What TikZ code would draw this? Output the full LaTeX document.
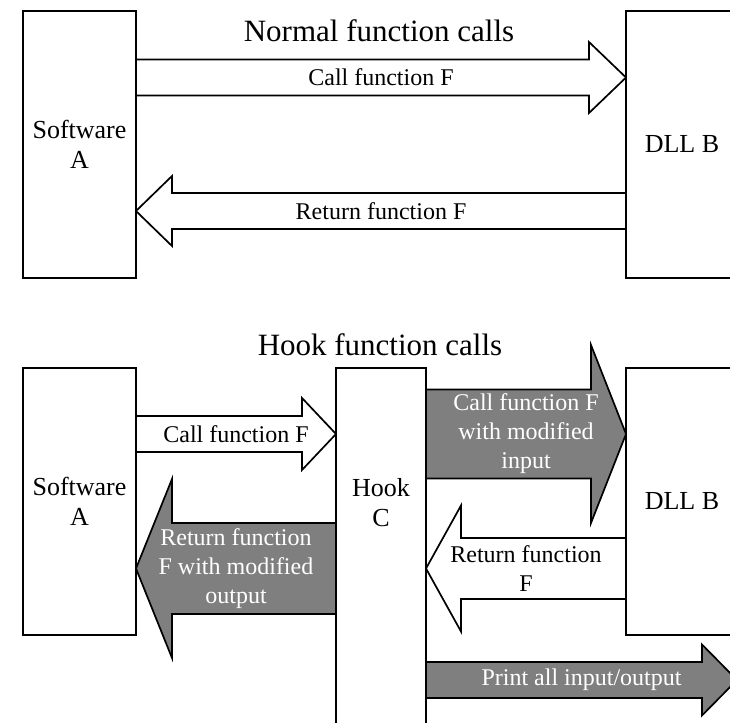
\documentclass[tikz,border=0pt]{standalone}
\usepackage{fontspec}
\setmainfont{Liberation Serif}
\usetikzlibrary{calc}

% Block arrow: #1 tail point, #2 tip point, #3 half body height,
% #4 half head height, #5 signed head length (+ right, - left),
% #6 path style, #7 label style, #8 label text
\newcommand{\blockarrow}[8]{%
  \draw[#6] let \p1=#1, \p2=#2 in
    (\x1,\y2+#3pt) -- (\x2-#5pt,\y2+#3pt) -- (\x2-#5pt,\y2+#4pt) -- (\x2,\y2)
    -- (\x2-#5pt,\y2-#4pt) -- (\x2-#5pt,\y2-#3pt) -- (\x1,\y2-#3pt) -- cycle;
  \node[#7] at ($#1!0.5!#2$) {#8};%
}

\definecolor{gray50}{HTML}{7F7F7F}
\tikzset{
  box/.style={draw, line width=1.7pt, rectangle, anchor=north west, outer sep=0pt,
              inner sep=0pt, align=center, font=\fontsize{26}{30}\selectfont},
  boxtext/.style={align=center, font=\fontsize{26}{30}\selectfont},
  whitearrow/.style={draw, fill=white, line width=1.7pt, line join=miter},
  grayarrow/.style={draw, fill=gray50, line width=1.7pt, line join=miter},
  darklabel/.style={align=center, text=black, font=\fontsize{24}{29}\selectfont},
  lightlabel/.style={align=center, text=white, font=\fontsize{24}{29}\selectfont},
  title/.style={anchor=base, font=\fontsize{31}{35}\selectfont}
}

\begin{document}
\begin{tikzpicture}[x=1pt, y=-1pt]
  \useasboundingbox (0,0) rectangle (730,722);
  \clip (0,0) rectangle (730,722);

  % ---- normal function calls ----
  \node[title] (t1) at (379,42) {Normal function calls};
  \node[box, minimum width=113pt, minimum height=267pt] (A1) at (23,11) {Software\\A};
  \node[box, minimum width=112pt, minimum height=267pt] (B1) at (626,11) {DLL B};

  \blockarrow{(A1.east |- 0,77.5)}{(B1.west |- 0,77.5)}{18}{35.5}{37}
    {whitearrow}{darklabel}{Call function F}
  \blockarrow{(B1.west |- 0,211)}{(A1.east |- 0,211)}{18}{35}{-36}
    {whitearrow}{darklabel}{Return function F}

  % ---- hooked function calls ----
  \node[title] (t2) at (380,355) {Hook function calls};
  \node[box, minimum width=113pt, minimum height=267pt] (A2) at (23,368) {Software\\A};
  \node[box, minimum width=90pt, minimum height=372pt] (C) at (336,368) {};
  \node[boxtext] (Ctext) at ($(C.north)+(0,135)$) {Hook\\C};
  \node[box, minimum width=112pt, minimum height=267pt] (B2) at (626,368) {DLL B};
  \coordinate (printend) at (737,680);

  \blockarrow{(A2.east |- 0,434)}{(C.west |- 0,434)}{18}{36}{34}
    {whitearrow}{darklabel}{Call function F}
  \blockarrow{(C.east |- 0,434)}{(B2.west |- 0,434)}{44.5}{89}{35}
    {grayarrow}{lightlabel}{Call function F\\with modified\\input}
  \blockarrow{(B2.west |- 0,568.5)}{(C.east |- 0,568.5)}{30.5}{63}{-35}
    {whitearrow}{darklabel}{Return function\\F}
  \blockarrow{(C.west |- 0,568.5)}{(A2.east |- 0,568.5)}{45.5}{89.5}{-36}
    {grayarrow}{lightlabel}{Return function\\F with modified\\output}
  \blockarrow{(C.east |- 0,680)}{(printend)}{18}{35.5}{35}
    {grayarrow}{lightlabel}{Print all input/output}
\end{tikzpicture}
\end{document}
